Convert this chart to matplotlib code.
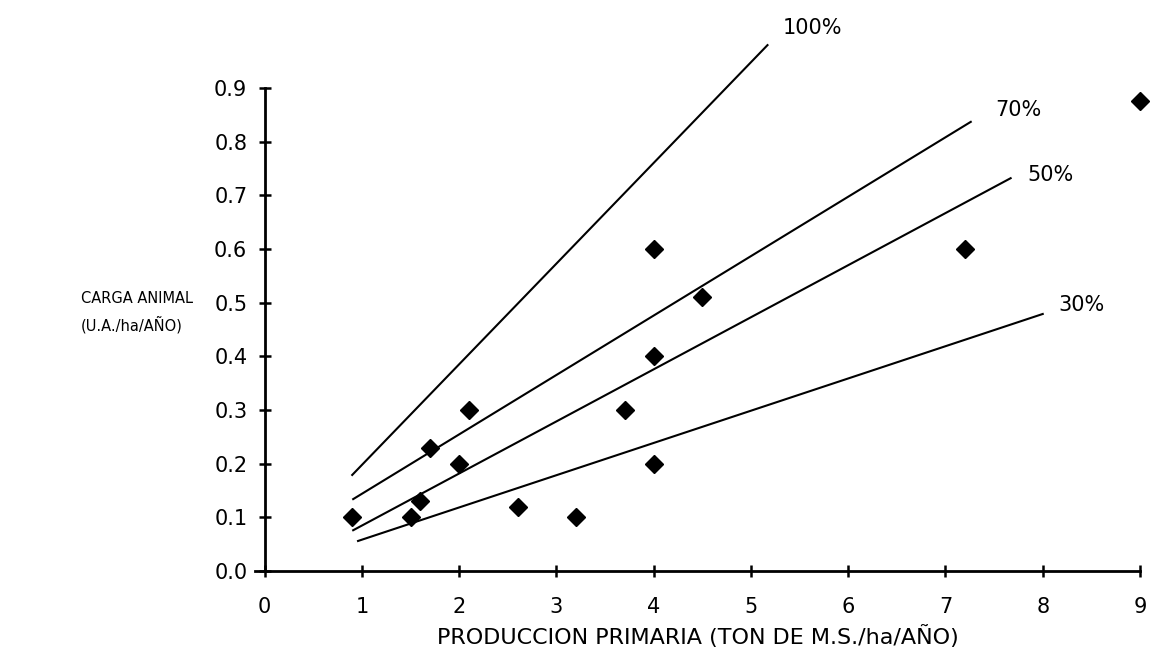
import matplotlib
matplotlib.use("Agg")
import matplotlib.pyplot as plt

# puntos observados
prod_x = [0.9, 1.5, 1.6, 1.7, 2.0, 2.1, 2.6, 3.2, 3.7, 4.0, 4.0, 4.0, 4.5, 7.2, 9.0]
carga_y = [0.10, 0.10, 0.13, 0.23, 0.20, 0.30, 0.12, 0.10, 0.30, 0.40, 0.20, 0.60, 0.51, 0.60, 0.875]

# rectas de referencia (extremos)
line_labels = ["100%", "70%", "50%", "30%"]
line_x = [[0.90, 5.17], [0.91, 7.26], [0.91, 7.67], [0.96, 8.00]]
line_y = [[0.179, 0.98], [0.134, 0.837], [0.076, 0.732], [0.056, 0.479]]
label_pos = [(5.33, 1.012), (7.51, 0.859), (7.84, 0.738), (8.16, 0.496)]

xticks = [0, 1, 2, 3, 4, 5, 6, 7, 8, 9]
yticks = [0.0, 0.1, 0.2, 0.3, 0.4, 0.5, 0.6, 0.7, 0.8, 0.9]

fig = plt.figure(figsize=(11.5, 6.67), dpi=100)
ax = fig.add_axes([0.2217, 0.1439, 0.9913 - 0.2217, 0.868 - 0.1439])

for xs, ys in zip(line_x, line_y):
    ax.plot(xs, ys, color="black", lw=1.5, clip_on=False)
for lab, (lx, ly) in zip(line_labels, label_pos):
    ax.text(lx, ly, lab, fontsize=15, ha="left", va="center")

ax.plot(prod_x, carga_y, "D", color="black", ms=9, clip_on=False, zorder=5)

ax.set_xlim(-0.1, 9)
ax.set_ylim(0, 0.9)
ax.spines["left"].set_position(("data", 0))
ax.spines["top"].set_visible(False)
ax.spines["right"].set_visible(False)
ax.spines["left"].set_linewidth(2)
ax.spines["bottom"].set_linewidth(2)

ax.set_xticks(xticks)
ax.set_xticklabels([str(t) for t in xticks])
ax.set_yticks(yticks)
ax.set_yticklabels(["%.1f" % t for t in yticks])
ax.tick_params(direction="inout", length=9, width=1.8, labelsize=15, pad=8)
ax.tick_params(axis="x", pad=14)

ax.set_xlabel("PRODUCCION PRIMARIA (TON DE M.S./ha/AÑO)", fontsize=16, labelpad=6)
fig.text(0.168, 0.532, "CARGA ANIMAL\n(U.A./ha/AÑO)", fontsize=10.5,
         ha="right", va="center", multialignment="left", linespacing=1.7)

fig.savefig("out.png", dpi=100)
